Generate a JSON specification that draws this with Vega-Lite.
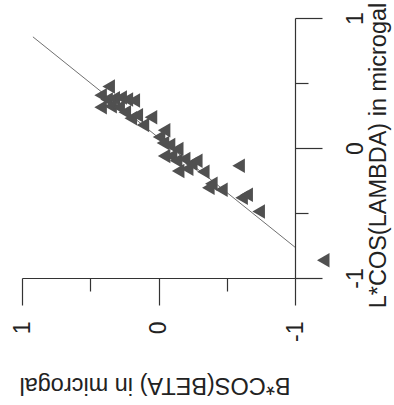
{
  "$schema": "https://vega.github.io/schema/vega-lite/v6.json",
  "width": 273,
  "height": 260,
  "autosize": {"type": "none"},
  "padding": {"left": 22, "top": 18, "right": 99, "bottom": 127},
  "background": "white",
  "config": {"view": {"stroke": null}, "font": "Liberation Sans"},
  "datasets": {
    "pts": [
      {"B": 0.365, "L": 0.473}, {"B": 0.424, "L": 0.405}, {"B": 0.380, "L": 0.374},
      {"B": 0.328, "L": 0.382}, {"B": 0.277, "L": 0.389}, {"B": 0.232, "L": 0.374},
      {"B": 0.181, "L": 0.366}, {"B": 0.424, "L": 0.313}, {"B": 0.351, "L": 0.321},
      {"B": 0.292, "L": 0.313}, {"B": 0.247, "L": 0.275}, {"B": 0.203, "L": 0.229},
      {"B": 0.159, "L": 0.252}, {"B": 0.055, "L": 0.237}, {"B": 0.114, "L": 0.176},
      {"B": -0.041, "L": 0.137}, {"B": -0.004, "L": 0.084}, {"B": -0.033, "L": 0.038},
      {"B": -0.077, "L": 0.023}, {"B": -0.137, "L": -0.008}, {"B": -0.092, "L": -0.061},
      {"B": -0.041, "L": -0.061}, {"B": -0.129, "L": -0.099}, {"B": -0.188, "L": -0.084},
      {"B": -0.240, "L": -0.122}, {"B": -0.277, "L": -0.099}, {"B": -0.144, "L": -0.176},
      {"B": -0.210, "L": -0.160}, {"B": -0.328, "L": -0.183}, {"B": -0.587, "L": -0.137},
      {"B": -0.387, "L": -0.275}, {"B": -0.365, "L": -0.305}, {"B": -0.461, "L": -0.321},
      {"B": -0.609, "L": -0.382}, {"B": -0.646, "L": -0.359}, {"B": -0.734, "L": -0.489},
      {"B": -1.207, "L": -0.863}
    ],
    "fit": [
      {"B": 0.92, "L": 0.855},
      {"B": -1.0, "L": -0.763}
    ]
  },
  "encoding": {
    "x": {
      "field": "B",
      "type": "quantitative",
      "scale": {"domain": [-1, 1], "reverse": true, "nice": false, "zero": false},
      "axis": {
        "orient": "bottom",
        "values": [-1, -0.5, 0, 0.5, 1],
        "grid": false,
        "domainColor": "#333",
        "tickColor": "#333",
        "domainWidth": 1.2,
        "tickWidth": 1.2,
        "tickSize": {"condition": {"test": "abs(datum.value) == 0.5", "value": 13}, "value": 27},
        "labelExpr": "datum.value == 1 ? '1' : datum.value == 0 ? '0' : datum.value == -1 ? '-1' : ''",
        "labelAngle": 270,
        "labelAlign": "right",
        "labelBaseline": "middle",
        "labelPadding": 16,
        "labelFontSize": 23,
        "labelColor": "#222",
        "labelFlush": false,
        "labelOverlap": false,
        "labelBound": false,
        "title": "B*COS(BETA) in microgal",
        "titleAngle": 180,
        "titleFontSize": 23.5,
        "titleFontWeight": "normal",
        "titleColor": "#222",
        "titleX": 132.5,
        "titleY": 99,
        "titleAlign": "center",
        "titleBaseline": "alphabetic"
      }
    },
    "y": {
      "field": "L",
      "type": "quantitative",
      "scale": {"domain": [-1, 1], "nice": false, "zero": false},
      "axis": {
        "orient": "right",
        "values": [-1, -0.5, 0, 0.5, 1],
        "grid": false,
        "domainColor": "#333",
        "tickColor": "#333",
        "domainWidth": 1.2,
        "tickWidth": 1.2,
        "tickSize": {"condition": {"test": "abs(datum.value) == 0.5", "value": 13}, "value": 27},
        "labelExpr": "datum.value == 1 ? '1' : datum.value == 0 ? '0' : datum.value == -1 ? '-1' : ''",
        "labelAngle": 270,
        "labelAlign": "center",
        "labelBaseline": "top",
        "labelPadding": 22,
        "labelFontSize": 23,
        "labelColor": "#222",
        "labelFlush": false,
        "labelOverlap": false,
        "labelBound": false,
        "title": "L*COS(LAMBDA) in microgal",
        "titleAngle": 270,
        "titleFontSize": 23.5,
        "titleFontWeight": "normal",
        "titleColor": "#222",
        "titleX": 90,
        "titleY": 137,
        "titleAlign": "center",
        "titleBaseline": "alphabetic"
      }
    }
  },
  "layer": [
    {
      "data": {"name": "fit"},
      "mark": {"type": "line", "color": "#707070", "strokeWidth": 1}
    },
    {
      "data": {"name": "pts"},
      "mark": {"type": "point", "shape": "triangle-left", "filled": true, "size": 210, "color": "#505050", "opacity": 1}
    }
  ]
}
